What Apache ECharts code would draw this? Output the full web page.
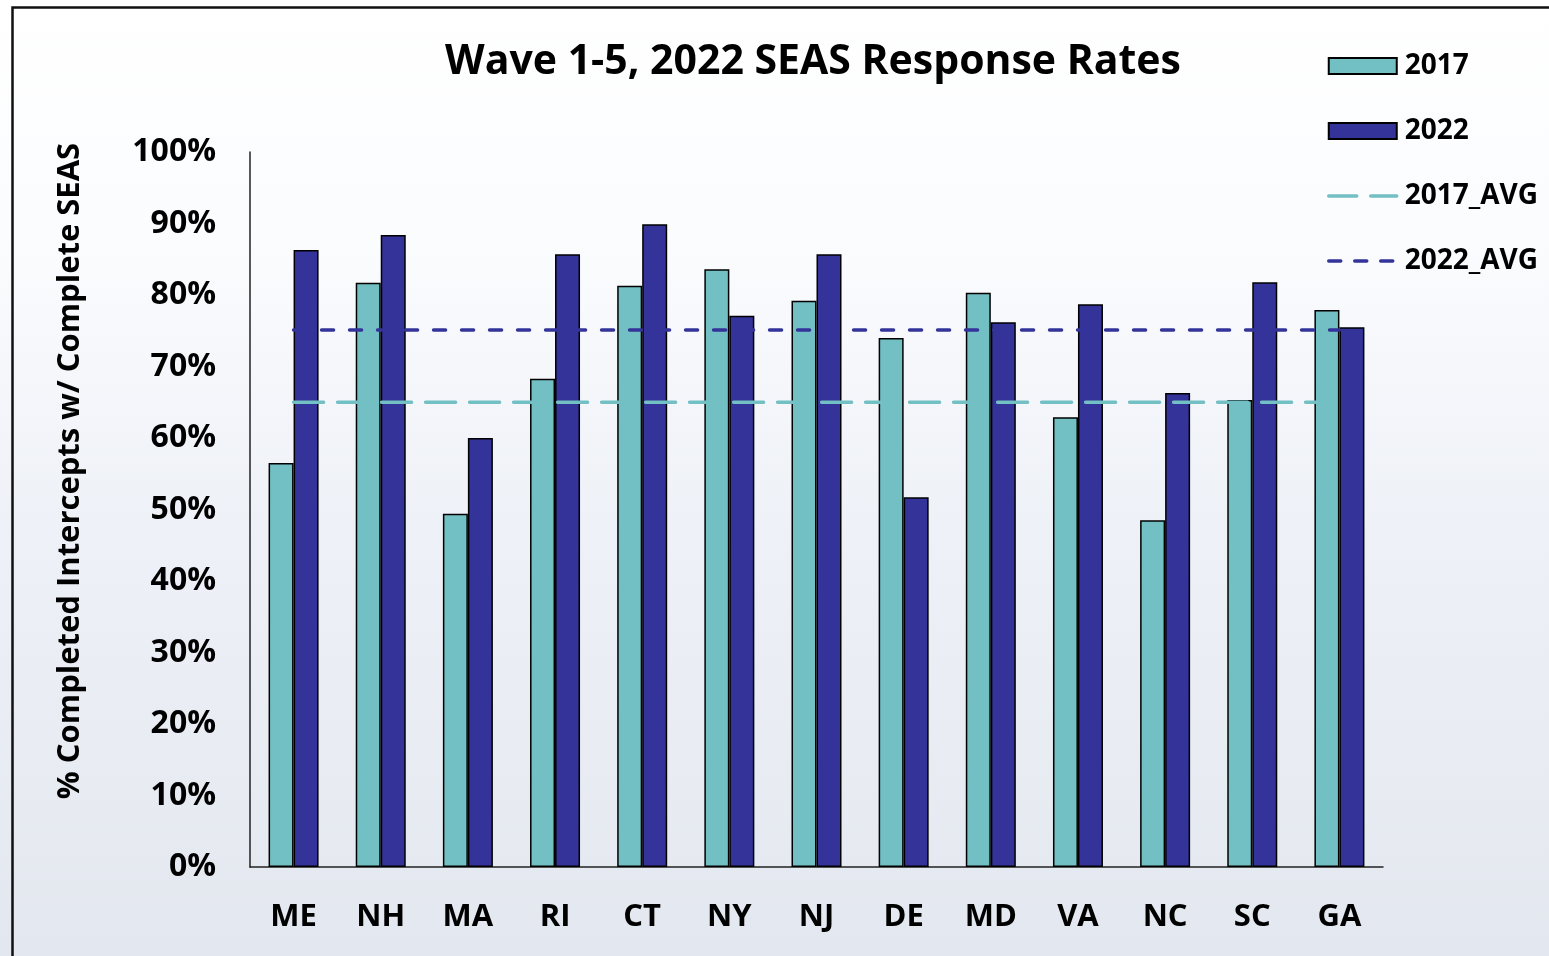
<!DOCTYPE html>
<html>
<head>
<meta charset="utf-8">
<script src="https://cdn.jsdelivr.net/npm/echarts@6/dist/echarts.min.js"></script>
<style>
html,body{margin:0;padding:0;background:#fff;}
#chart{width:1549px;height:956px;}
</style>
</head>
<body>
<div id="chart"></div>
<script>
var categories = ['ME','NH','MA','RI','CT','NY','NJ','DE','MD','VA','NC','SC','GA'];
var rate2017 = [56.5, 81.7, 49.4, 68.3, 81.3, 83.6, 79.2, 74.0, 80.3, 62.9, 48.5, 65.3, 77.9];
var rate2022 = [86.3, 88.4, 60.0, 85.7, 89.9, 77.1, 85.7, 51.7, 76.2, 78.7, 66.3, 81.8, 75.5];
var avg2017 = [65.0, 65.0, 65.0, 65.0, 65.0, 65.0, 65.0, 65.0, 65.0, 65.0, 65.0, 65.0, 65.0];
var avg2022 = [75.1, 75.1, 75.1, 75.1, 75.1, 75.1, 75.1, 75.1, 75.1, 75.1, 75.1, 75.1, 75.1];
var yTicks = [0, 10, 20, 30, 40, 50, 60, 70, 80, 90, 100];
var yAxisTitle = '% Completed Intercepts w/ Complete SEAS';

var FONT = '"Open Sans"';
var W = 'bold';
var TEAL = '#72BFC4', NAVY = '#333399';
var chart = echarts.init(document.getElementById('chart'), null, {renderer: 'canvas'});
chart.setOption({
  animation: false,
  backgroundColor: {
    type: 'linear', x: 0, y: 0, x2: 0, y2: 1,
    colorStops: [
      {offset: 0, color: '#ffffff'},
      {offset: 0.25, color: '#fbfcfe'},
      {offset: 0.55, color: '#eef1f7'},
      {offset: 1, color: '#e3e7ef'}
    ]
  },
  graphic: [{
    type: 'rect', left: 10, top: 5, z: 100,
    shape: {width: 1600, height: 1000},
    style: {fill: 'none', stroke: '#111', lineWidth: 2.5}
  }, {
    type: 'text', x: 70, y: 471, rotation: Math.PI / 2, z: 50,
    style: {text: yAxisTitle, fontFamily: FONT, fontWeight: W, fontSize: 31, fill: '#000',
            align: 'center', verticalAlign: 'middle'}
  }],
  title: {
    text: 'Wave 1-5, 2022 SEAS Response Rates',
    left: 808, top: 37, textAlign: 'center',
    textStyle: {fontFamily: FONT, fontWeight: W, fontSize: 41, color: '#000'}
  },
  legend: {
    orient: 'vertical', left: 1322, top: 47,
    itemWidth: 68, itemHeight: 16, itemGap: 37,
    textStyle: {fontFamily: FONT, fontWeight: W, fontSize: 28, color: '#000', padding: [0, 0, 0, 3]},
    data: [
      {name: '2017', icon: 'rect'},
      {name: '2022', icon: 'rect'},
      {name: '2017_AVG', itemStyle: {opacity: 0}, lineStyle: {color: TEAL, width: 3.5, type: [28, 14], cap: 'round'}},
      {name: '2022_AVG', itemStyle: {opacity: 0}, lineStyle: {color: NAVY, width: 3.5, type: [12, 14], cap: 'round'}}
    ]
  },
  grid: {left: 250, right: 166, top: 152, bottom: 89, containLabel: false},
  xAxis: {
    type: 'category', data: categories,
    axisLine: {lineStyle: {color: '#222', width: 1.5}},
    axisTick: {show: false},
    axisLabel: {fontFamily: FONT, fontWeight: W, fontSize: 31, color: '#000', margin: 35}
  },
  yAxis: {
    type: 'value', min: 0, max: 100, interval: 10,
    axisLine: {show: true, lineStyle: {color: '#222', width: 1.5}},
    axisTick: {show: false},
    splitLine: {show: false},
    axisLabel: {fontFamily: FONT, fontWeight: W, fontSize: 32, color: '#000', margin: 34,
      formatter: function(v){ return yTicks.indexOf(v) >= 0 ? v + '%' : ''; }}
  },
  series: [
    {name: '2017', type: 'bar', data: rate2017, barWidth: 25, barGap: '0%',
     itemStyle: {color: TEAL, borderColor: '#000', borderWidth: 1.5}},
    {name: '2022', type: 'bar', data: rate2022, barWidth: 25,
     itemStyle: {color: NAVY, borderColor: '#000', borderWidth: 1.5}},
    {name: '2017_AVG', type: 'line', data: avg2017, symbol: 'none', z: 5,
     lineStyle: {color: TEAL, width: 3.5, type: [30, 14], cap: 'round'},
     itemStyle: {color: TEAL}},
    {name: '2022_AVG', type: 'line', data: avg2022, symbol: 'none', z: 5,
     lineStyle: {color: NAVY, width: 3.5, type: [12, 16], cap: 'round'},
     itemStyle: {color: NAVY}}
  ]
});
</script>
</body>
</html>
